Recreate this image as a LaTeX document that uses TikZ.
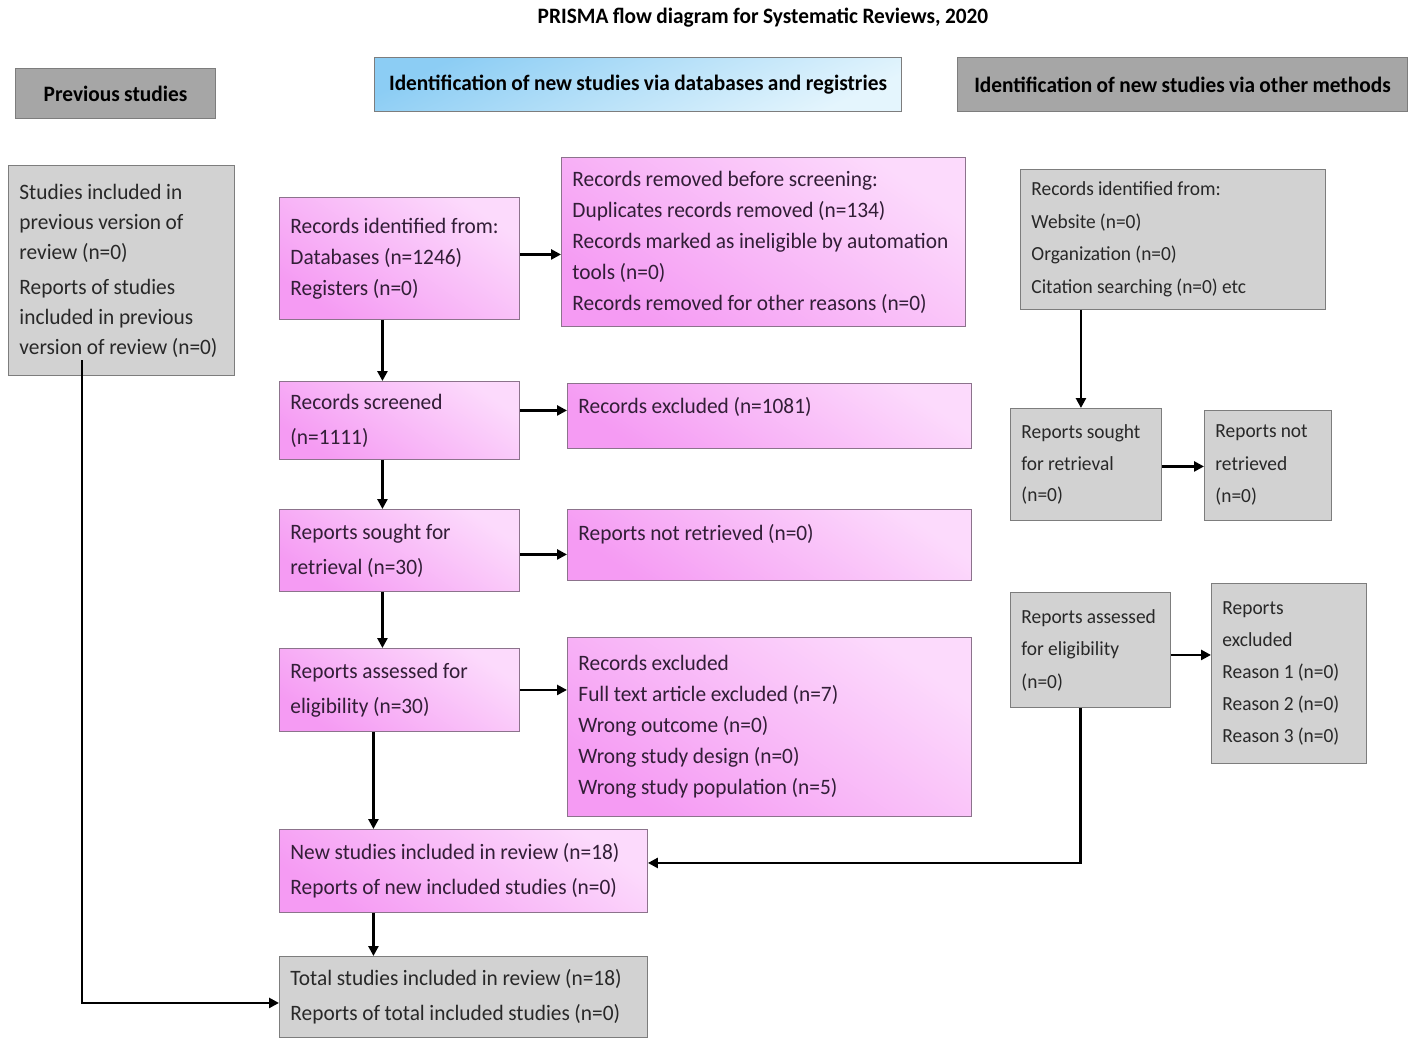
\documentclass[tikz,border=0pt]{standalone}
\usepackage{fontspec}
\setmainfont{Carlito}[FakeStretch=0.97]
\usepackage{tikz}
\usetikzlibrary{arrows.meta, positioning}
\definecolor{pinkL}{RGB}{245,155,243}
\definecolor{pinkR}{RGB}{252,218,252}
\definecolor{pinkline}{RGB}{140,115,140}
\definecolor{grayfill}{RGB}{210,210,210}
\definecolor{grayhead}{RGB}{166,166,166}
\definecolor{grayline}{RGB}{125,125,125}
\definecolor{blueL}{RGB}{140,205,244}
\definecolor{blueR}{RGB}{228,245,253}
\definecolor{txt}{RGB}{40,40,40}
\definecolor{ptxt}{RGB}{50,30,55}
\tikzstyle{box} = [rectangle, anchor=north west, align=left, inner xsep=11pt, inner ysep=0pt, line width=0.9pt, text=txt, font=\fontsize{22}{35}\selectfont, execute at begin node={\hyphenpenalty=10000\spaceskip=0.21em plus 0.05em}]
\tikzstyle{pinkbox} = [box, draw=pinkline, top color=pinkR, bottom color=pinkL, shading angle=-35, text=ptxt]
\tikzstyle{graybox} = [box, draw=grayline, fill=grayfill]
\tikzstyle{otherbox} = [graybox, inner xsep=11pt]
\tikzstyle{headbox} = [rectangle, anchor=north west, align=center, draw=grayline, fill=grayhead, line width=1pt, text=black, font=\fontsize{22}{26}\selectfont\bfseries, execute at begin node={\spaceskip=0.2em}]
\tikzstyle{flow} = [line width=2.8pt, -{Triangle[length=10pt,width=10pt]}]

\begin{document}
\begin{tikzpicture}[x=1pt, y=-1pt]
	\useasboundingbox (0,0) rectangle (1412,1039);
	\node[font=\fontsize{22}{26}\selectfont\bfseries, execute at begin node={\spaceskip=0.2em}] (title) at (763,18) {PRISMA flow diagram for Systematic Reviews, 2020};
	% headers
	\node[headbox, minimum width=200pt, minimum height=50pt] (hprev) at (15,68) {Previous studies};
	\node[headbox, minimum width=527pt, minimum height=54pt, draw=grayline, top color=blueL, bottom color=blueR, shading angle=25] (hdb) at (374,57) {Identification of new studies via databases and registries};
	\node[headbox, minimum width=450pt, minimum height=54pt] (hoth) at (957,57) {Identification of new studies via other methods};
	% previous studies
	\node[graybox, minimum width=226pt, minimum height=210pt, text width=204pt, font=\fontsize{22}{30}\selectfont] (prev) at (8,165) {Studies included in\\previous version of\\review (n=0)\\[5pt]Reports of studies\\included in previous\\version of review (n=0)};
	\coordinate (pv) at (82,360);
	% databases and registries
	\node[pinkbox, minimum width=240pt, minimum height=122pt, text width=218pt, font=\fontsize{22}{31}\selectfont] (rid) at (279,197) {Records identified from:\\Databases (n=1246)\\Registers (n=0)};
	\node[pinkbox, minimum width=404pt, minimum height=169pt, text width=382pt, font=\fontsize{22}{31}\selectfont] (rrem) at (561,157) {Records removed before screening:\\Duplicates records removed (n=134)\\Records marked as ineligible by automation\\tools (n=0)\\Records removed for other reasons (n=0)};
	\node[pinkbox, minimum width=240pt, minimum height=78pt, text width=218pt] (rscr) at (279,381) {Records screened\\(n=1111)};
	\node[pinkbox, minimum width=404pt, minimum height=65pt, text width=382pt, text depth=22pt] (rexc) at (567,383) {Records excluded (n=1081)};
	\node[pinkbox, minimum width=240pt, minimum height=82pt, text width=218pt] (rsou) at (279,509) {Reports sought for\\retrieval (n=30)};
	\node[pinkbox, minimum width=404pt, minimum height=71pt, text width=382pt, text depth=26pt] (rnot) at (567,509) {Reports not retrieved (n=0)};
	\node[pinkbox, minimum width=240pt, minimum height=83pt, text width=218pt] (rass) at (279,648) {Reports assessed for\\eligibility (n=30)};
	\node[pinkbox, minimum width=404pt, minimum height=179pt, text width=382pt, font=\fontsize{22}{31}\selectfont] (rexl) at (567,637) {Records excluded\\Full text article excluded (n=7)\\Wrong outcome (n=0)\\Wrong study design (n=0)\\Wrong study population (n=5)};
	\node[pinkbox, minimum width=368pt, minimum height=83pt, text width=346pt] (rnew) at (279,829) {New studies included in review (n=18)\\Reports of new included studies (n=0)};
	\node[graybox, minimum width=368pt, minimum height=81pt, text width=346pt] (rtot) at (279,956) {Total studies included in review (n=18)\\Reports of total included studies (n=0)};
	% other methods
	\node[otherbox, minimum width=305pt, minimum height=140pt, text width=283pt, font=\fontsize{20}{32.5}\selectfont] (oid) at (1020,169) {Records identified from:\\Website (n=0)\\Organization (n=0)\\Citation searching (n=0) etc};
	\node[otherbox, minimum width=151pt, minimum height=112pt, text width=129pt, font=\fontsize{20}{31.5}\selectfont] (osou) at (1010,408) {Reports sought\\for retrieval\\(n=0)};
	\node[otherbox, minimum width=127pt, minimum height=110pt, text width=105pt, font=\fontsize{20}{32.5}\selectfont] (onot) at (1204,410) {Reports not\\retrieved\\(n=0)};
	\node[otherbox, minimum width=160pt, minimum height=115pt, text width=138pt, font=\fontsize{20}{32.5}\selectfont] (oass) at (1010,592) {Reports assessed\\for eligibility\\(n=0)};
	\node[otherbox, minimum width=155pt, minimum height=180pt, text width=133pt, font=\fontsize{20}{32.2}\selectfont] (oexc) at (1211,583) {Reports\\excluded\\Reason 1 (n=0)\\Reason 2 (n=0)\\Reason 3 (n=0)};
	% connectors
	\draw[flow] ([yshift=4pt]rid.east) -- ([yshift=4pt]rid.east -| rrem.west);
	\draw[flow] ([xshift=-17pt]rid.south) -- ([xshift=-17pt]rscr.north);
	\draw[flow] ([yshift=10pt]rscr.east) -- ([yshift=10pt]rscr.east -| rexc.west);
	\draw[flow] ([xshift=-17pt]rscr.south) -- ([xshift=-17pt]rsou.north);
	\draw[flow] ([yshift=-4pt]rsou.east) -- ([yshift=-4pt]rsou.east -| rnot.west);
	\draw[flow] ([xshift=-17pt]rsou.south) -- ([xshift=-17pt]rass.north);
	\draw[flow] (rass.east) -- (rass.east -| rexl.west);
	\draw[flow] ([xshift=-26pt]rass.south) -- ([xshift=-26pt]rass.south |- rnew.north);
	\draw[flow] ([xshift=-90pt]rnew.south) -- ([xshift=-90pt]rtot.north);
	\draw[flow] (pv) |- ([yshift=-6pt]rtot.west);
	\draw[flow] ([xshift=-92pt]oid.south) -- ([xshift=-92pt]oid.south |- osou.north);
	\draw[flow] ([yshift=-2pt]osou.east) -- ([yshift=-2pt]osou.east -| onot.west);
	\draw[flow] ([yshift=-5pt]oass.east) -- ([yshift=-5pt]oass.east -| oexc.west);
	\draw[flow] ([xshift=-10pt]oass.south) |- ([yshift=8pt]rnew.east);
\end{tikzpicture}
\end{document}
